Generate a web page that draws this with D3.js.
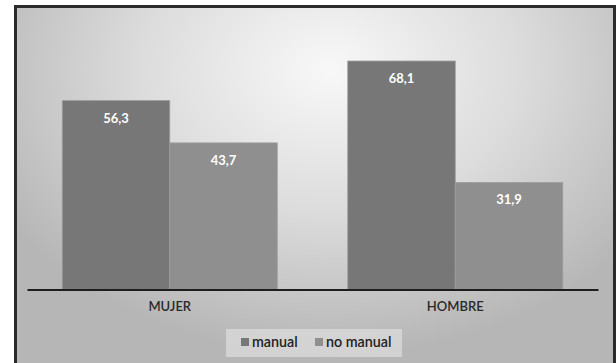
<!DOCTYPE html>
<html>
<head>
<meta charset="utf-8">
<script src="https://cdn.jsdelivr.net/npm/d3@7/dist/d3.min.js"></script>
<style>
  html, body { margin: 0; padding: 0; background: #ffffff; }
  svg { display: block; }
</style>
</head>
<body>
<svg id="chart" width="616" height="363"></svg>
<script>
// Categories, series and values
const categories = ["MUJER", "HOMBRE"];
const seriesNames = ["manual", "no manual"];
const manualValues = [56.3, 68.1];
const noManualValues = [43.7, 31.9];
const valueLabels = [["56,3", "43,7"], ["68,1", "31,9"]];
const seriesColors = ["#777777", "#8f8f8f"];

const svg = d3.select("#chart");
const W = 616, H = 363;
const FONT = "Lato, 'Open Sans', sans-serif";

// Chart area background: radial grey gradient inside a dark frame
const defs = svg.append("defs");
const grad = defs.append("radialGradient")
  .attr("id", "bg").attr("gradientUnits", "userSpaceOnUse")
  .attr("cx", 330).attr("cy", 70).attr("r", 380)
  .attr("gradientTransform", "translate(330,70) scale(1.0,0.75) translate(-330,-70)");
grad.append("stop").attr("offset", "0%").attr("stop-color", "#f8f8f8");
grad.append("stop").attr("offset", "50%").attr("stop-color", "#dcdcdc");
grad.append("stop").attr("offset", "100%").attr("stop-color", "#b6b6b6");

svg.append("rect")
  .attr("x", 15.5).attr("y", 6.5).attr("width", 599).attr("height", 380)
  .attr("fill", "url(#bg)")
  .attr("stroke", "#2b2b2b").attr("stroke-width", 3);

// Plot geometry
const margin = { left: 27, right: 18, top: 20, baseline: 289.5 };
const x0 = d3.scaleBand().domain(categories)
  .range([margin.left, W - margin.right]).paddingInner(0).paddingOuter(0);
const x1 = d3.scaleBand().domain(seriesNames)
  .range([0, x0.bandwidth()]).paddingOuter(0.328).paddingInner(0);
const y = d3.scaleLinear().domain([0, 80]).range([margin.baseline, margin.baseline - 80 * 3.355]);

const rows = categories.map((c, i) => ({
  cat: c,
  vals: [
    { s: seriesNames[0], v: manualValues[i], label: valueLabels[i][0] },
    { s: seriesNames[1], v: noManualValues[i], label: valueLabels[i][1] }
  ]
}));

const groups = svg.append("g").selectAll("g").data(rows).join("g")
  .attr("transform", d => `translate(${x0(d.cat)},0)`);

groups.selectAll("rect").data(d => d.vals).join("rect")
  .attr("x", d => x1(d.s))
  .attr("y", d => y(d.v))
  .attr("width", x1.bandwidth())
  .attr("height", d => y(0) - y(d.v))
  .attr("fill", (d, i) => seriesColors[i])
  .attr("stroke", "#9c9c9c").attr("stroke-width", 0.8);

groups.selectAll("text.val").data(d => d.vals).join("text")
  .attr("class", "val")
  .attr("x", d => x1(d.s) + x1.bandwidth() / 2)
  .attr("y", d => y(d.v) + 22)
  .attr("text-anchor", "middle")
  .attr("font-family", FONT).attr("font-weight", "bold").attr("font-size", 13)
  .attr("fill", "#ffffff")
  .text(d => d.label);

// Category axis
const xAxis = svg.append("g").attr("transform", `translate(0,${margin.baseline})`)
  .call(d3.axisBottom(x0).tickSize(0).tickPadding(12));
xAxis.select(".domain").attr("stroke", "#1e1e1e").attr("stroke-width", 2.2);
xAxis.selectAll("text")
  .attr("font-family", FONT).attr("font-size", 13).attr("font-weight", 600).attr("fill", "#2a2a2a");

// Legend
const legend = svg.append("g").attr("transform", "translate(226,329)");
legend.append("rect").attr("width", 176).attr("height", 28).attr("fill", "#dedede").attr("opacity", 0.7);
const items = [{ x: 15, name: seriesNames[0] }, { x: 89, name: seriesNames[1] }];
items.forEach((it, i) => {
  legend.append("rect").attr("x", it.x).attr("y", 9).attr("width", 8).attr("height", 8)
    .attr("fill", seriesColors[i]);
  legend.append("text").attr("x", it.x + 11).attr("y", 18)
    .attr("font-family", FONT).attr("font-size", 14.3).attr("font-weight", 600).attr("fill", "#222222")
    .text(it.name);
});
</script>
</body>
</html>
